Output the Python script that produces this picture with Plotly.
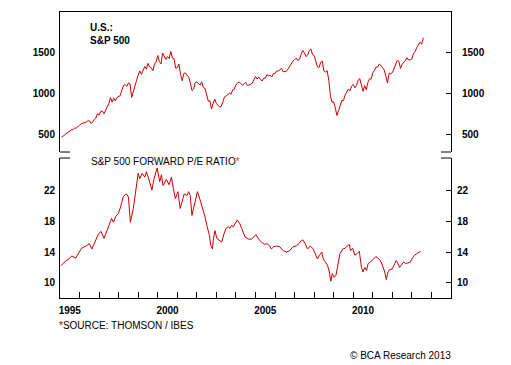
import plotly.graph_objects as go

# ---- S&P 500 monthly closes (read/estimated), Jan 1995 .. Jul 2013 ----
spx_start_year = 1995
spx_1995 = [470, 487, 501, 515, 533, 545, 562, 562, 584, 582, 605, 616]
spx_1996 = [636, 640, 645, 654, 669, 671, 640, 652, 687, 705, 757, 741]
spx_1997 = [786, 791, 757, 801, 848, 885, 954, 899, 947, 915, 955, 970]
spx_1998 = [980, 1049, 1102, 1112, 1091, 1134, 1121, 957, 1017, 1099, 1164, 1229]
spx_1999 = [1280, 1238, 1286, 1335, 1302, 1373, 1329, 1320, 1283, 1363, 1389, 1469]
spx_2000 = [1394, 1366, 1499, 1452, 1421, 1455, 1431, 1518, 1437, 1429, 1315, 1320]
spx_2001 = [1366, 1240, 1160, 1249, 1256, 1224, 1211, 1134, 1041, 1060, 1139, 1148]
spx_2002 = [1130, 1107, 1147, 1077, 1067, 990, 912, 916, 815, 886, 936, 880]
spx_2003 = [856, 841, 848, 917, 964, 975, 990, 1008, 996, 1051, 1058, 1112]
spx_2004 = [1131, 1145, 1126, 1107, 1121, 1141, 1102, 1104, 1115, 1130, 1174, 1212]
spx_2005 = [1181, 1204, 1181, 1157, 1192, 1191, 1234, 1220, 1229, 1207, 1249, 1248]
spx_2006 = [1280, 1281, 1295, 1311, 1270, 1270, 1277, 1304, 1336, 1378, 1401, 1418]
spx_2007 = [1438, 1407, 1421, 1482, 1531, 1503, 1455, 1474, 1527, 1549, 1481, 1468]
spx_2008 = [1379, 1331, 1323, 1386, 1400, 1280, 1267, 1283, 1165, 969, 896, 903]
spx_2009 = [826, 735, 798, 873, 919, 919, 987, 1021, 1057, 1036, 1096, 1115]
spx_2010 = [1074, 1104, 1169, 1187, 1089, 1031, 1102, 1049, 1141, 1183, 1181, 1258]
spx_2011 = [1286, 1327, 1326, 1364, 1345, 1321, 1292, 1219, 1131, 1253, 1247, 1258]
spx_2012 = [1312, 1366, 1408, 1398, 1310, 1362, 1379, 1407, 1441, 1412, 1416, 1426]
spx_2013 = [1498, 1515, 1569, 1597, 1631, 1606, 1686]

# ---- S&P 500 forward P/E ----
pe_time = [
    1995.05, 1995.27, 1995.5, 1995.6, 1995.8, 1995.95, 1996.1, 1996.4, 1996.5, 1996.63,
    1996.8, 1996.97, 1997.1, 1997.25, 1997.4, 1997.56, 1997.64, 1997.73, 1997.86, 1997.98,
    1998.1, 1998.24, 1998.4, 1998.5, 1998.6, 1998.75, 1998.88, 1999.0, 1999.08, 1999.2,
    1999.34, 1999.42, 1999.56, 1999.7, 1999.8, 1999.97, 2000.1, 2000.19, 2000.27, 2000.44,
    2000.58, 2000.7, 2000.8, 2000.9, 2001.03, 2001.15, 2001.35, 2001.5, 2001.58, 2001.66,
    2001.75, 2001.9, 2002.03, 2002.17, 2002.31, 2002.42, 2002.51, 2002.64, 2002.71, 2002.8,
    2002.85, 2002.93, 2003.02, 2003.15, 2003.27, 2003.39, 2003.49, 2003.61, 2003.69, 2003.78,
    2003.86, 2003.95, 2004.07, 2004.2, 2004.34, 2004.46, 2004.63, 2004.8, 2004.92, 2005.02,
    2005.14, 2005.22, 2005.36, 2005.47, 2005.59, 2005.73, 2005.81, 2005.93, 2006.07, 2006.24,
    2006.41, 2006.58, 2006.75, 2006.92, 2007.08, 2007.22, 2007.34, 2007.42, 2007.54, 2007.66,
    2007.8, 2007.93, 2008.05, 2008.17, 2008.27, 2008.39, 2008.47, 2008.56, 2008.68, 2008.78,
    2008.85, 2008.93, 2009.02, 2009.12, 2009.24, 2009.32, 2009.46, 2009.58, 2009.69, 2009.8,
    2009.86, 2009.97, 2010.08, 2010.2, 2010.31, 2010.42, 2010.5, 2010.59, 2010.68, 2010.76,
    2010.88, 2011.02, 2011.15, 2011.27, 2011.39, 2011.49, 2011.61, 2011.69, 2011.78, 2011.86,
    2012.0, 2012.12, 2012.2, 2012.29, 2012.37, 2012.46, 2012.58, 2012.68, 2012.8, 2012.92,
    2013.02, 2013.14, 2013.25, 2013.36, 2013.45,
]
pe_value = [
    12.2, 12.8, 13.2, 13.5, 13.2, 13.8, 14.5, 14.9, 15.1, 14.4,
    15.3, 16.4, 16.7, 15.8, 16.8, 18.0, 18.4, 17.9, 18.7, 19.0,
    19.9, 21.3, 21.6, 21.2, 17.9, 19.7, 21.9, 24.3, 23.6, 24.3,
    23.8, 24.5, 23.4, 22.1, 23.5, 25.0, 23.2, 24.1, 22.7, 23.5,
    22.8, 23.8, 22.3, 21.0, 21.9, 19.7, 21.6, 21.4, 21.9, 21.4,
    18.8, 20.6, 21.9, 20.8, 19.7, 18.6, 17.5, 16.2, 14.9, 14.4,
    15.8, 16.8, 15.8, 15.5, 15.3, 16.4, 17.1, 17.3, 17.1, 17.5,
    17.3, 17.7, 18.2, 17.7, 16.8, 16.0, 15.7, 15.7, 16.0, 16.3,
    15.8, 15.5, 15.2, 15.0, 15.1, 14.8, 14.4, 14.7, 14.8, 14.7,
    14.2, 14.0, 14.2, 14.7, 14.8, 15.1, 15.5, 15.6, 15.1, 14.4,
    14.8, 14.5, 13.8, 13.1, 13.6, 14.0, 13.1, 12.7, 12.3, 11.4,
    10.2, 11.2, 10.7, 11.0, 12.7, 13.8, 14.4, 14.5, 14.8, 15.0,
    14.2, 14.5, 13.6, 13.8, 14.1, 12.0, 11.4, 12.0, 11.6, 12.5,
    12.7, 13.1, 13.4, 13.2, 12.9, 12.3, 11.4, 10.4, 11.4, 11.7,
    11.8, 12.5, 12.9, 12.5, 12.0, 12.3, 12.7, 12.5, 12.6, 12.7,
    13.2, 13.6, 13.8, 14.0, 14.1,
]

spx_ticks = [500, 1000, 1500]
pe_ticks = [10, 14, 18, 22]
year_ticks = list(range(1995, 2016))
year_labels = ["1995", "2000", "2005", "2010"]

spx_by_year = [spx_1995, spx_1996, spx_1997, spx_1998, spx_1999, spx_2000, spx_2001,
               spx_2002, spx_2003, spx_2004, spx_2005, spx_2006, spx_2007, spx_2008,
               spx_2009, spx_2010, spx_2011, spx_2012, spx_2013]
spx_time, spx_value = [], []
for i, yr in enumerate(spx_by_year):
    for m, v in enumerate(yr):
        spx_time.append(spx_start_year + i + (m + 1) / 12.0)
        spx_value.append(v)

W, H = 511, 365
L, R = 60, 451
def px_x(p):
    return p / W
def px_y(p):
    return 1 - p / H

RED = "#cc0000"
FONT = "Arial, Liberation Sans, sans-serif"
tickfont = dict(family=FONT, size=10, color="black", weight="bold")

fig = go.Figure()
fig.add_trace(go.Scatter(x=spx_time, y=spx_value, mode="lines",
                         line=dict(color=RED, width=1), xaxis="x", yaxis="y",
                         showlegend=False, hoverinfo="skip"))
# transparent copy so the right-hand axis is drawn
fig.add_trace(go.Scatter(x=spx_time, y=spx_value, mode="lines", opacity=0,
                         line=dict(color=RED, width=1), xaxis="x", yaxis="y3",
                         showlegend=False, hoverinfo="skip"))
fig.add_trace(go.Scatter(x=pe_time, y=pe_value, mode="lines",
                         line=dict(color=RED, width=1), xaxis="x2", yaxis="y2",
                         showlegend=False, hoverinfo="skip"))
fig.add_trace(go.Scatter(x=pe_time, y=pe_value, mode="lines", opacity=0,
                         line=dict(color=RED, width=1), xaxis="x3", yaxis="y4",
                         showlegend=False, hoverinfo="skip"))

xdom = [px_x(L), px_x(R)]
top_dom = [px_y(152), px_y(12)]
bot_dom = [px_y(298), px_y(158)]
xr = [1995, 2015]
common = dict(showgrid=False, zeroline=False, linecolor="black", linewidth=1)

fig.update_layout(
    width=W, height=H, margin=dict(l=0, r=0, t=0, b=0),
    paper_bgcolor="white", plot_bgcolor="white",
    xaxis=dict(domain=xdom, range=xr, anchor="y", side="top", showline=True,
               showticklabels=False, ticks="", **common),
    yaxis=dict(domain=top_dom, range=[290, 2000], anchor="x", side="left",
               showline=True, ticks="", tickvals=spx_ticks, tickfont=tickfont,
               ticklabelstandoff=2, **common),
    yaxis3=dict(range=[290, 2000], overlaying="y", anchor="x", side="right",
                showline=True, ticks="inside", ticklen=5, tickcolor="black",
                tickvals=spx_ticks, tickfont=tickfont, ticklabelstandoff=8, **common),
    xaxis2=dict(domain=xdom, range=xr, anchor="y2", side="bottom", showline=True,
                ticks="inside", ticklen=6, tickcolor="black", tickvals=year_ticks,
                showticklabels=False, **common),
    xaxis3=dict(range=xr, overlaying="x2", anchor="y2", side="bottom", showline=False,
                ticks="", tickvals=[int(t) + 0.5 for t in year_labels],
                ticktext=year_labels, tickfont=tickfont, ticklabelstandoff=5, **common),
    yaxis2=dict(domain=bot_dom, range=[8, 26.3], anchor="x2", side="left",
                showline=True, ticks="", tickvals=pe_ticks, tickfont=tickfont,
                ticklabelstandoff=2, **common),
    yaxis4=dict(range=[8, 26.3], overlaying="y2", anchor="x2", side="right",
                showline=True, ticks="inside", ticklen=5, tickcolor="black",
                tickvals=pe_ticks, tickfont=tickfont, ticklabelstandoff=3, **common),
)

# short corner marks between panels
seg = 10
for yy in (152, 158):
    for x0, x1 in ((L, L + seg), (R - seg, R)):
        fig.add_shape(type="line", xref="paper", yref="paper",
                      x0=px_x(x0), x1=px_x(x1), y0=px_y(yy), y1=px_y(yy),
                      line=dict(color="black", width=1))

ann_font = dict(family=FONT, size=10, color="black")
fig.add_annotation(xref="paper", yref="paper", x=px_x(88), y=px_y(33.5),
                   xanchor="left", yanchor="middle", align="left", showarrow=False,
                   text="<b>U.S.:<br>S&P 500</b>", font=ann_font)
fig.add_annotation(xref="paper", yref="paper", x=px_x(89), y=px_y(162),
                   xanchor="left", yanchor="middle", showarrow=False,
                   text="S&P 500 FORWARD P/E RATIO<span style='color:#e0401a'>*</span>",
                   font=ann_font)
fig.add_annotation(xref="paper", yref="paper", x=px_x(57), y=px_y(325),
                   xanchor="left", yanchor="middle", showarrow=False,
                   text="<span style='color:#990000'>*</span>SOURCE: THOMSON / IBES",
                   font=ann_font)
fig.add_annotation(xref="paper", yref="paper", x=px_x(453), y=px_y(355.5),
                   xanchor="right", yanchor="middle", showarrow=False,
                   text="© BCA Research 2013", font=ann_font)

fig.write_html("out.html", config={"displayModeBar": False},
               post_script="document.body.style.margin='0px';")
